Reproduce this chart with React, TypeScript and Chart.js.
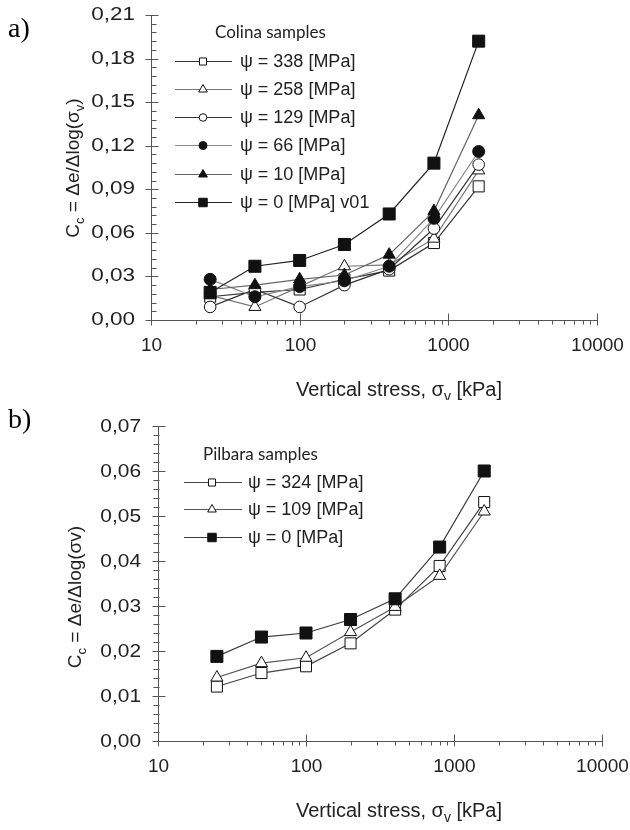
import React, { useEffect, useRef } from 'react';
import { Chart, registerables } from 'chart.js';

Chart.register(...registerables);

// ---------- DATA ----------
const stress = [25, 50, 100, 200, 400, 800, 1600];

const colina338 = [0.016, 0.019, 0.021, 0.028, 0.034, 0.053, 0.092];
const colina258 = [0.017, 0.009, 0.023, 0.037, 0.038, 0.056, 0.103];
const colina129 = [0.009, 0.021, 0.009, 0.024, 0.035, 0.063, 0.107];
const colina66 = [0.028, 0.016, 0.023, 0.027, 0.037, 0.070, 0.116];
const colina10 = [0.021, 0.024, 0.028, 0.031, 0.045, 0.075, 0.141];
const colina0 = [0.019, 0.037, 0.041, 0.052, 0.073, 0.108, 0.192];

const pilbara324 = [0.0121, 0.0151, 0.0166, 0.0217, 0.0292, 0.0389, 0.0531];
const pilbara109 = [0.0141, 0.0173, 0.0185, 0.0242, 0.0298, 0.0367, 0.0510];
const pilbara0 = [0.0188, 0.0231, 0.0240, 0.0270, 0.0316, 0.0431, 0.0600];

const colinaLabels = [
  'ψ = 338 [MPa]',
  'ψ = 258 [MPa]',
  'ψ = 129 [MPa]',
  'ψ = 66 [MPa]',
  'ψ = 10 [MPa]',
  'ψ = 0 [MPa] v01',
];
const pilbaraLabels = ['ψ = 324 [MPa]', 'ψ = 109 [MPa]', 'ψ = 0 [MPa]'];

const xTickValues = [10, 100, 1000, 10000];
const yTicksA = [0, 0.03, 0.06, 0.09, 0.12, 0.15, 0.18, 0.21];
const yTicksB = [0, 0.01, 0.02, 0.03, 0.04, 0.05, 0.06, 0.07];

// ---------- STYLES ----------
type Series = {
  label: string;
  data: number[];
  shape: 'rect' | 'triangle' | 'circle';
  filled: boolean;
  line: string;
  r: number;
  lr: number;
  order: number;
};

const seriesA: Series[] = [
  { label: colinaLabels[0], data: colina338, shape: 'rect', filled: false, line: '#333333', r: 7.8, lr: 5, order: 6 },
  { label: colinaLabels[1], data: colina258, shape: 'triangle', filled: false, line: '#777777', r: 7, lr: 5, order: 5 },
  { label: colinaLabels[2], data: colina129, shape: 'circle', filled: false, line: '#333333', r: 5.8, lr: 3.8, order: 4 },
  { label: colinaLabels[3], data: colina66, shape: 'circle', filled: true, line: '#888888', r: 6, lr: 4, order: 3 },
  { label: colinaLabels[4], data: colina10, shape: 'triangle', filled: true, line: '#666666', r: 7, lr: 5, order: 2 },
  { label: colinaLabels[5], data: colina0, shape: 'rect', filled: true, line: '#222222', r: 8.5, lr: 6, order: 1 },
];

const seriesB: Series[] = [
  { label: pilbaraLabels[0], data: pilbara324, shape: 'rect', filled: false, line: '#444444', r: 7.8, lr: 5, order: 3 },
  { label: pilbaraLabels[1], data: pilbara109, shape: 'triangle', filled: false, line: '#555555', r: 7, lr: 5, order: 2 },
  { label: pilbaraLabels[2], data: pilbara0, shape: 'rect', filled: true, line: '#3a3a3a', r: 8.5, lr: 6, order: 1 },
];

type Seg = { t: string; sub?: boolean };

type Decor = {
  panel: string;
  panelXY: [number, number];
  yTicks: number[];
  yMinorStep: number;
  yLabelRight: number;
  yLabelScale: number;
  yLabelFont: number;
  minorInside: boolean;
  yTitle: Seg[];
  yTitleCenter: [number, number];
  yTitleSize: number;
  xTitleCenterX: number;
  legendTitle: string;
  legendTitleXY: [number, number];
  legendY0: number;
  legendDy: number;
  legendLine: [number, number];
  legendMarkerX: number;
  legendTextX: number;
  series: Series[];
};

const SANS = 'Arial, "Liberation Sans", sans-serif';
const INK = '#222';

function drawMarker(ctx: CanvasRenderingContext2D, shape: string, x: number, y: number, r: number, filled: boolean) {
  ctx.beginPath();
  if (shape === 'rect') {
    const s = r * Math.SQRT1_2;
    ctx.rect(x - s, y - s, 2 * s, 2 * s);
  } else if (shape === 'circle') {
    ctx.arc(x, y, r, 0, Math.PI * 2);
  } else {
    ctx.moveTo(x, y - r);
    ctx.lineTo(x + r * 0.866, y + r * 0.5);
    ctx.lineTo(x - r * 0.866, y + r * 0.5);
    ctx.closePath();
  }
  ctx.fillStyle = filled ? '#111' : '#fff';
  ctx.fill();
  ctx.strokeStyle = '#111';
  ctx.lineWidth = 1;
  ctx.stroke();
}

function drawSegs(ctx: CanvasRenderingContext2D, segs: Seg[], size: number) {
  const subSize = Math.round(size * 0.68);
  let total = 0;
  const widths = segs.map((s) => {
    ctx.font = `${s.sub ? subSize : size}px ${SANS}`;
    const w = ctx.measureText(s.t).width;
    total += w;
    return w;
  });
  let x = -total / 2;
  ctx.textAlign = 'left';
  ctx.textBaseline = 'alphabetic';
  segs.forEach((s, i) => {
    ctx.font = `${s.sub ? subSize : size}px ${SANS}`;
    ctx.fillText(s.t, x, size * 0.36 + (s.sub ? size * 0.28 : 0));
    x += widths[i];
  });
}

function makeDecor(cfg: Decor) {
  return {
    id: 'decor' + cfg.panel,
    afterDraw(chart: any) {
      const ctx: CanvasRenderingContext2D = chart.ctx;
      const xs = chart.scales.x;
      const ys = chart.scales.y;
      const { top, right, left, bottom } = chart.chartArea;
      const L = Math.round(left) + 0.5;
      const B = Math.round(bottom) + 0.5;
      ctx.save();
      ctx.strokeStyle = '#555';
      ctx.lineWidth = 1;
      const seg = (x1: number, y1: number, x2: number, y2: number) => {
        ctx.beginPath();
        ctx.moveTo(x1, y1);
        ctx.lineTo(x2, y2);
        ctx.stroke();
      };
      seg(L, top, L, B);
      seg(L, B, right, B);
      for (let d = 10; d < 10000; d *= 10) {
        for (let m = 2; m <= 9; m++) {
          const px = Math.round(xs.getPixelForValue(d * m)) + 0.5;
          seg(px, B, px, B + 4);
        }
      }
      ctx.fillStyle = INK;
      ctx.font = `19px ${SANS}`;
      ctx.textAlign = 'center';
      ctx.textBaseline = 'middle';
      xTickValues.forEach((v) => {
        const px = Math.round(xs.getPixelForValue(v)) + 0.5;
        seg(px, B - 7, px, B + 5);
        ctx.fillText(String(v), px, B + 25);
      });
      const ratio = Math.round((cfg.yTicks[1] - cfg.yTicks[0]) / cfg.yMinorStep);
      const nMinor = Math.round(cfg.yTicks[cfg.yTicks.length - 1] / cfg.yMinorStep);
      for (let k = 0; k <= nMinor; k++) {
        if (k % ratio === 0) continue;
        const py = Math.round(ys.getPixelForValue(k * cfg.yMinorStep)) + 0.5;
        if (cfg.minorInside) seg(L, py, L + 5, py);
        else seg(L - 5, py, L + 1, py);
      }
      cfg.yTicks.forEach((v) => {
        const py = Math.round(ys.getPixelForValue(v)) + 0.5;
        seg(L - 6, py, L + 7, py);
        ctx.save();
        ctx.translate(cfg.yLabelRight, py);
        ctx.scale(cfg.yLabelScale, 1);
        ctx.font = `${cfg.yLabelFont}px ${SANS}`;
        ctx.textAlign = 'right';
        ctx.textBaseline = 'middle';
        ctx.fillStyle = INK;
        ctx.fillText(v.toFixed(2).replace('.', ','), 0, 0);
        ctx.restore();
      });
      ctx.fillStyle = INK;
      ctx.save();
      ctx.translate(cfg.yTitleCenter[0], cfg.yTitleCenter[1]);
      ctx.rotate(-Math.PI / 2);
      drawSegs(ctx, cfg.yTitle, cfg.yTitleSize);
      ctx.restore();
      ctx.save();
      ctx.translate(cfg.xTitleCenterX, B + 68);
      drawSegs(ctx, [{ t: 'Vertical stress, σ' }, { t: 'v', sub: true }, { t: ' [kPa]' }], 20);
      ctx.restore();
      ctx.font = `17px Lato, "Open Sans", sans-serif`;
      ctx.textAlign = 'left';
      ctx.textBaseline = 'middle';
      ctx.fillStyle = INK;
      ctx.fillText(cfg.legendTitle, cfg.legendTitleXY[0], cfg.legendTitleXY[1]);
      cfg.series.forEach((s, i) => {
        const y = Math.round(cfg.legendY0 + i * cfg.legendDy) + 0.5;
        ctx.strokeStyle = s.line;
        ctx.lineWidth = 1.2;
        seg(cfg.legendLine[0], y, cfg.legendLine[1], y);
        drawMarker(ctx, s.shape, cfg.legendMarkerX, y, s.lr, s.filled);
        ctx.fillStyle = INK;
        ctx.font = `18px ${SANS}`;
        ctx.textBaseline = 'middle';
        ctx.fillText(s.label, cfg.legendTextX, y + 1);
      });
      ctx.font = `28px "Liberation Serif", "Times New Roman", serif`;
      ctx.textAlign = 'left';
      ctx.textBaseline = 'alphabetic';
      ctx.fillStyle = '#000';
      ctx.fillText(cfg.panel, cfg.panelXY[0], cfg.panelXY[1]);
      ctx.restore();
    },
  };
}

function buildConfig(series: Series[], yMax: number, padding: any, decor: Decor): any {
  return {
    type: 'line',
    data: {
      datasets: series.map((s) => ({
        label: s.label,
        data: stress.map((x, i) => ({ x, y: s.data[i] })),
        borderColor: s.line,
        borderWidth: 1.2,
        pointStyle: s.shape,
        pointRadius: s.r,
        pointBackgroundColor: s.filled ? '#111' : '#fff',
        pointBorderColor: '#111',
        pointBorderWidth: 1,
        tension: 0,
        fill: false,
        order: s.order,
      })),
    },
    options: {
      responsive: false,
      animation: false,
      devicePixelRatio: 1,
      layout: { padding },
      events: [],
      scales: {
        x: { type: 'logarithmic', min: 10, max: 10000, display: false },
        y: { type: 'linear', min: 0, max: yMax, display: false },
      },
      plugins: {
        legend: { display: false },
        tooltip: { enabled: false },
      },
    },
    plugins: [makeDecor(decor)],
  };
}

const decorA: Decor = {
  panel: 'a)',
  panelXY: [8, 37],
  yTicks: yTicksA,
  yMinorStep: 0.006,
  yLabelRight: 135,
  yLabelScale: 1.25,
  yLabelFont: 18,
  minorInside: true,
  yTitle: [{ t: 'C' }, { t: 'c', sub: true }, { t: ' = Δe/Δlog(σ' }, { t: 'v', sub: true }, { t: ')' }],
  yTitleCenter: [72, 168],
  yTitleSize: 19,
  xTitleCenterX: 399,
  legendTitle: 'Colina samples',
  legendTitleXY: [215, 33],
  legendY0: 60.5,
  legendDy: 28.3,
  legendLine: [175, 232],
  legendMarkerX: 203,
  legendTextX: 240,
  series: seriesA,
};

const decorB: Decor = {
  panel: 'b)',
  panelXY: [8, 28],
  yTicks: yTicksB,
  yMinorStep: 0.002,
  yLabelRight: 141,
  yLabelScale: 1.1,
  yLabelFont: 19,
  minorInside: false,
  yTitle: [{ t: 'C' }, { t: 'c', sub: true }, { t: ' = Δe/Δlog(σv)' }],
  yTitleCenter: [74, 197],
  yTitleSize: 19,
  xTitleCenterX: 399,
  legendTitle: 'Pilbara samples',
  legendTitleXY: [203, 55],
  legendY0: 81.7,
  legendDy: 27.5,
  legendLine: [184, 242],
  legendMarkerX: 212,
  legendTextX: 248,
  series: seriesB,
};

export default function App() {
  const refA = useRef<HTMLCanvasElement>(null);
  const refB = useRef<HTMLCanvasElement>(null);

  useEffect(() => {
    const a = new Chart(
      refA.current as HTMLCanvasElement,
      buildConfig(seriesA, 0.21, { left: 151, top: 15, right: 33, bottom: 80 }, decorA)
    );
    const b = new Chart(
      refB.current as HTMLCanvasElement,
      buildConfig(seriesB, 0.07, { left: 158, top: 26, right: 28, bottom: 89 }, decorB)
    );
    return () => {
      a.destroy();
      b.destroy();
    };
  }, []);

  return (
    <div style={{ position: 'absolute', left: 0, top: 0, width: 630, height: 830, background: '#fff' }}>
      <canvas ref={refA} width={630} height={400} style={{ position: 'absolute', left: 0, top: 0 }} />
      <canvas ref={refB} width={630} height={430} style={{ position: 'absolute', left: 0, top: 400 }} />
    </div>
  );
}
